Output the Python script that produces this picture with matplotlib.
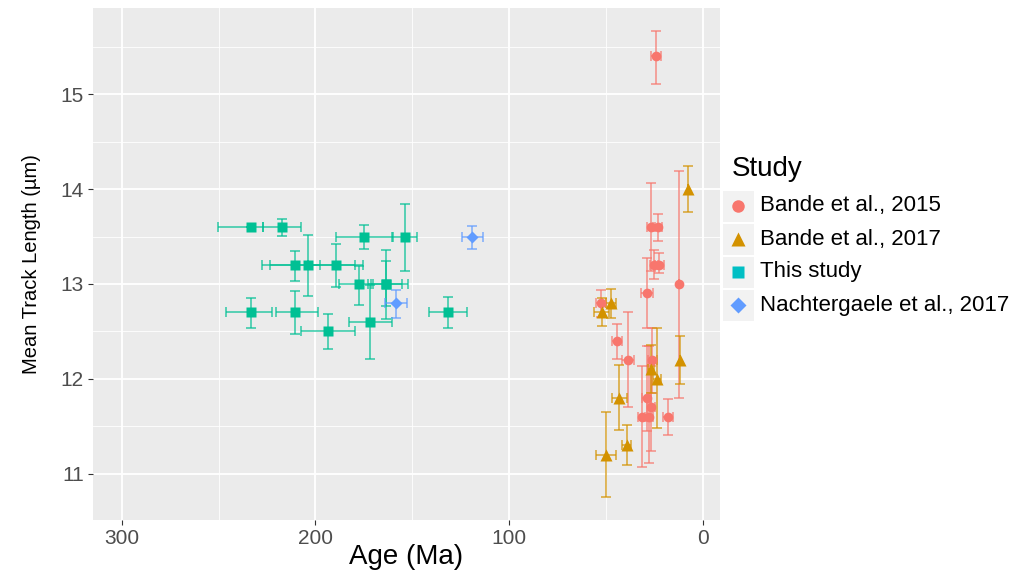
import numpy as np
import matplotlib
matplotlib.use("Agg")
import matplotlib.pyplot as plt
from matplotlib.patches import Rectangle
from matplotlib.lines import Line2D
from matplotlib.ticker import MultipleLocator

plt.rcParams['font.family'] = ['Liberation Sans', 'DejaVu Sans']

# Bande et al., 2015
b15_age = [24.3, 26.8, 23.4, 25.3, 22.5, 12.4, 28.9, 52.6, 44.4, 38.9, 26.2, 29.1, 26.8, 31.3, 27.9, 18.2]
b15_age_min = [21.8, 24.5, 21.2, 23.0, 20.2, 12.4, 26.0, 50.1, 41.6, 35.4, 23.9, 26.8, 24.6, 29.1, 25.7, 15.6]
b15_age_max = [26.8, 29.0, 25.6, 27.5, 24.8, 12.4, 32.0, 55.2, 46.8, 42.0, 28.5, 31.4, 29.0, 33.5, 30.1, 20.5]
b15_len = [15.4, 13.6, 13.6, 13.2, 13.2, 13.0, 12.9, 12.8, 12.4, 12.2, 12.2, 11.8, 11.7, 11.6, 11.6, 11.6]
b15_len_min = [15.11, 13.14, 13.45, 13.05, 13.12, 11.80, 12.53, 12.65, 12.21, 11.70, 11.85, 11.45, 11.24, 11.07, 11.11, 11.41]
b15_len_max = [15.67, 14.06, 13.74, 13.36, 13.33, 14.19, 13.27, 12.94, 12.58, 12.70, 12.53, 12.35, 12.13, 12.13, 12.35, 11.79]

# Bande et al., 2017
b17_age = [7.9, 47.6, 52.3, 43.2, 50.2, 39.4, 27.0, 23.6, 11.9]
b17_age_min = [7.9, 44.9, 48.5, 39.1, 45.0, 37.2, 25.5, 21.6, 11.9]
b17_age_max = [7.9, 50.1, 56.1, 47.1, 55.2, 42.0, 28.5, 25.6, 11.9]
b17_len = [14.0, 12.8, 12.7, 11.8, 11.2, 11.3, 12.1, 12.0, 12.2]
b17_len_min = [13.76, 12.64, 12.56, 11.46, 10.75, 11.09, 11.85, 11.48, 11.94]
b17_len_max = [14.24, 12.95, 12.85, 12.14, 11.65, 11.51, 12.36, 12.53, 12.45]

# This study
ts_age = [233.4, 217.2, 174.8, 153.9, 210.5, 203.7, 189.5, 177.7, 163.6, 163.6, 233.4, 210.5, 193.7, 171.8, 131.7]
ts_age_min = [227.2, 207.4, 160.1, 147.4, 197.6, 179.6, 175.3, 170.1, 155.5, 152.1, 222.6, 198.8, 179.6, 160.6, 121.9]
ts_age_max = [250.4, 226.9, 189.5, 160.6, 223.4, 227.4, 203.7, 187.6, 171.5, 172.7, 246.1, 220.3, 207.4, 182.5, 141.4]
ts_len = [13.6, 13.6, 13.5, 13.5, 13.2, 13.2, 13.2, 13.0, 13.0, 13.0, 12.7, 12.7, 12.5, 12.6, 12.7]
ts_len_min = [13.6, 13.51, 13.37, 13.14, 13.03, 12.87, 12.97, 12.78, 12.63, 12.77, 12.54, 12.47, 12.31, 12.21, 12.53]
ts_len_max = [13.6, 13.68, 13.62, 13.84, 13.35, 13.52, 13.42, 13.19, 13.36, 13.24, 12.85, 12.93, 12.68, 12.99, 12.86]

# Nachtergaele et al., 2017
na_age = [119.0, 158.4]
na_age_min = [113.7, 152.6]
na_age_max = [124.5, 164.1]
na_len = [13.5, 12.8]
na_len_min = [13.37, 12.64]
na_len_max = [13.61, 12.94]

labels = ["Bande et al., 2015", "Bande et al., 2017", "This study", "Nachtergaele et al., 2017"]
point_colors = ["#F8766D", "#D39200", "#00C094", "#619CFF"]
key_colors = ["#F8766D", "#D39200", "#00BFC4", "#619CFF"]
markers = ["o", "^", "s", "D"]
msizes = [7.0, 8.5, 6.5, 6.5]

studies = [
    (b15_age, b15_age_min, b15_age_max, b15_len, b15_len_min, b15_len_max),
    (b17_age, b17_age_min, b17_age_max, b17_len, b17_len_min, b17_len_max),
    (ts_age, ts_age_min, ts_age_max, ts_len, ts_len_min, ts_len_max),
    (na_age, na_age_min, na_age_max, na_len, na_len_min, na_len_max),
]

W, H = 1012, 575
fig = plt.figure(figsize=(W / 100, H / 100), dpi=100)
ax = fig.add_axes([93 / W, 1 - 520 / H, (720 - 93) / W, (520 - 8) / H])
ax.set_facecolor("#EBEBEB")

# error bars first, then points on top
for (age, amin, amax, ln, lmin, lmax), col in zip(studies, point_colors):
    age = np.array(age); ln = np.array(ln)
    xerr = [age - np.array(amin), np.array(amax) - age]
    yerr = [ln - np.array(lmin), np.array(lmax) - ln]
    ax.errorbar(age, ln, yerr=yerr, fmt="none", ecolor=col, alpha=0.8,
                elinewidth=1.1, capsize=3.6, capthick=1.1, zorder=3)
    ax.errorbar(age, ln, xerr=xerr, fmt="none", ecolor=col, alpha=0.8,
                elinewidth=1.1, capsize=3.6, capthick=1.1, zorder=3)

for (age, amin, amax, ln, lmin, lmax), col, m, ms in zip(studies, point_colors, markers, msizes):
    ax.plot(age, ln, ls="none", marker=m, ms=ms, color=col, mec="none", zorder=4)

ax.set_xlim(314.8, -8.8)
ax.set_ylim(10.51, 15.91)
ax.xaxis.set_major_locator(MultipleLocator(100))
ax.xaxis.set_minor_locator(MultipleLocator(50))
ax.yaxis.set_major_locator(MultipleLocator(1))
ax.yaxis.set_minor_locator(MultipleLocator(0.5))
ax.grid(which="major", color="white", lw=1.3, zorder=0)
ax.grid(which="minor", color="white", lw=0.6, zorder=0)
ax.set_axisbelow(True)
for s in ax.spines.values():
    s.set_visible(False)
ax.tick_params(which="major", length=3.5, width=0.8, color="#333333",
               labelsize=15, labelcolor="#4D4D4D", pad=3)
ax.tick_params(which="minor", length=0)

ax.set_xlabel("Age (Ma)", fontsize=20, labelpad=-3)
ax.set_ylabel("Mean Track Length (\u00b5m)", fontsize=14.5, labelpad=14)

# legend, ggplot style
def fx(px):
    return px / W

def fy(py):
    return 1 - py / H

fig.text(fx(732), fy(169), "Study", fontsize=20, va="center", ha="left")
row_y = [206, 239, 272, 305]
for lab, col, m, ms, yy in zip(labels, key_colors, markers, msizes, row_y):
    fig.patches.append(Rectangle((fx(723), fy(yy + 15.5)), 31 / W, 31 / H,
                                 transform=fig.transFigure, facecolor="#F2F2F2",
                                 edgecolor="none"))
    fig.lines.append(Line2D([fx(738.5)], [fy(yy)], transform=fig.transFigure,
                            marker=m, ms=ms + 2, color=col, mec="none", ls="none"))
    fig.text(fx(760), fy(yy), lab, fontsize=16, va="center", ha="left")

fig.savefig("out.png", dpi=100)
